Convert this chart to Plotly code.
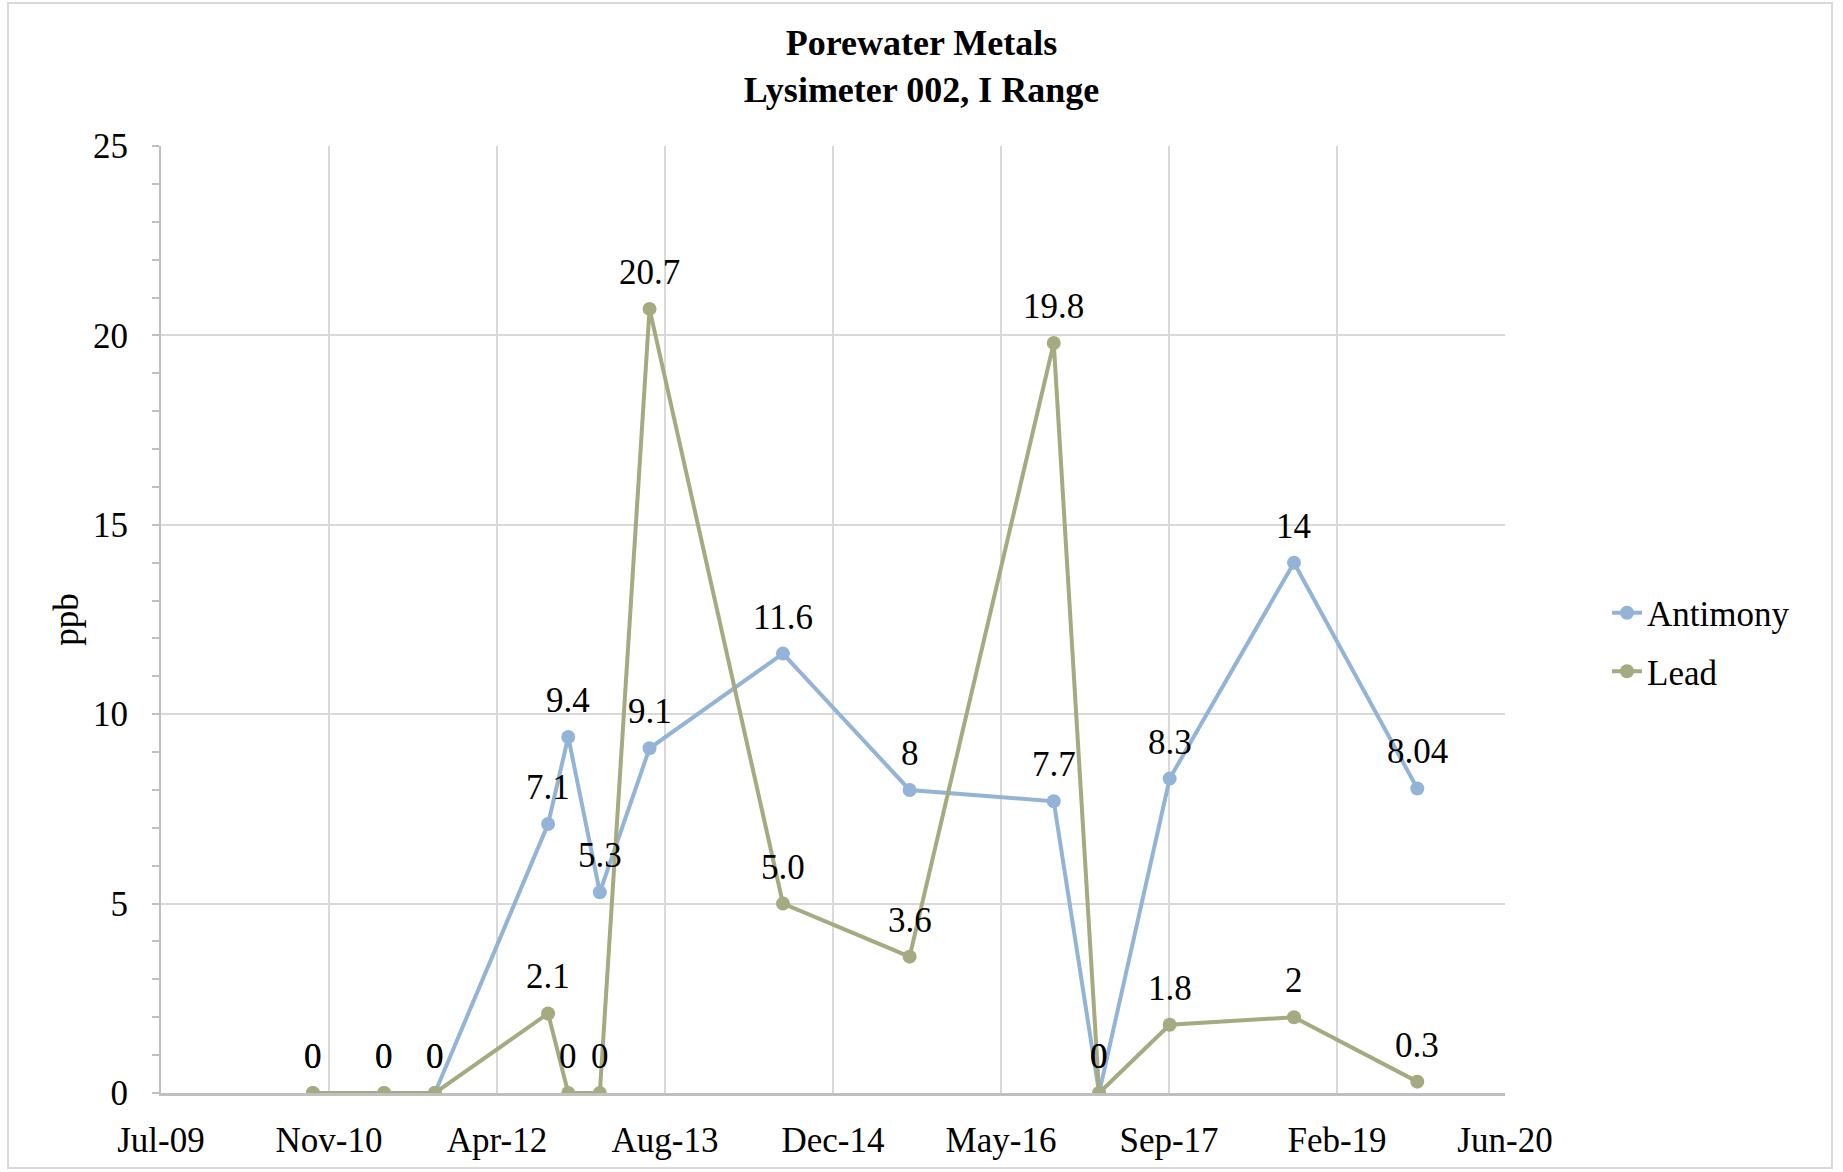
import datetime as dt
import plotly.graph_objects as go

# Sampling dates and measured concentrations (ppb)
sample_dates = [
    "2010-10-01", "2011-05-01", "2011-09-29", "2012-08-31", "2012-10-30",
    "2013-02-01", "2013-06-29", "2014-07-31", "2015-08-12", "2016-10-14",
    "2017-02-26", "2017-09-24", "2018-09-29", "2019-10-01",
]
antimony_labels = ["0", "0", "0", "7.1", "9.4", "5.3", "9.1", "11.6", "8", "7.7", "0", "8.3", "14", "8.04"]
lead_labels = ["0", "0", "0", "2.1", "0", "0", "20.7", "5.0", "3.6", "19.8", "0", "1.8", "2", "0.3"]
antimony = [float(t) for t in antimony_labels]
lead = [float(t) for t in lead_labels]

# Date-axis ticks every 500 days starting Jul-09
x_tick_text = ["Jul-09", "Nov-10", "Apr-12", "Aug-13", "Dec-14", "May-16", "Sep-17", "Feb-19", "Jun-20"]
axis_start = dt.date(2009, 7, 6)
x_tick_vals = [(axis_start + dt.timedelta(days=500 * i)).isoformat() for i in range(len(x_tick_text))]
y_tick_vals = [0, 5, 10, 15, 20, 25]

FONT = "Liberation Serif, Times New Roman, serif"
FS = 35
SB_COLOR = "#93B4D6"
PB_COLOR = "#A5AA80"
GRID = "#D9D9D9"
AXIS = "#BFBFBF"

W, H = 1843, 1172
ML, MR, MT, MB = 161, 338, 146, 79
PW, PH = W - ML - MR, H - MT - MB

fig = go.Figure()
for name, vals, color in [("Antimony", antimony, SB_COLOR), ("Lead", lead, PB_COLOR)]:
    fig.add_trace(go.Scatter(
        x=sample_dates, y=vals, name=name, legendgroup=name, mode="lines+markers",
        line=dict(color=color, width=4),
        marker=dict(color=color, size=14),
    ))

# Data labels above each point
annotations = []
for labels, vals in [(antimony_labels, antimony), (lead_labels, lead)]:
    for d, v, t in zip(sample_dates, vals, labels):
        annotations.append(dict(
            x=d, y=v, xref="x", yref="y", text=t, showarrow=False,
            xanchor="center", yanchor="bottom", yshift=15,
            font=dict(family=FONT, size=FS, color="black"),
        ))


def px_to_paper(px, py):
    return (px - ML) / PW, (H - MB - py) / PH


x0, y0 = px_to_paper(8, 1168)
x1, y1 = px_to_paper(1832, 3)

fig.update_layout(
    width=W, height=H,
    margin=dict(l=ML, r=MR, t=MT, b=MB, pad=0),
    paper_bgcolor="white", plot_bgcolor="white",
    font=dict(family=FONT, size=FS, color="black"),
    title=dict(
        text="<b>Porewater Metals<br>Lysimeter 002, I Range</b>",
        x=0.5, xref="container", xanchor="center",
        y=1 - 55 / H, yref="container", yanchor="middle",
        font=dict(family=FONT, size=36, color="black"),
    ),
    xaxis=dict(
        type="date",
        range=[x_tick_vals[0], x_tick_vals[-1]],
        tickmode="array", tickvals=x_tick_vals, ticktext=x_tick_text,
        showgrid=True, gridcolor=GRID, gridwidth=1.5,
        showline=True, linecolor=AXIS, linewidth=2.5,
        ticks="", ticklabelstandoff=14, zeroline=False,
        tickfont=dict(family=FONT, size=FS),
    ),
    yaxis=dict(
        range=[0, 25],
        tickmode="array", tickvals=y_tick_vals,
        showgrid=True, gridcolor=GRID, gridwidth=1.5,
        showline=True, linecolor=AXIS, linewidth=2,
        ticks="outside", ticklen=7, tickcolor=AXIS, tickwidth=1.5,
        minor=dict(dtick=1, ticks="outside", ticklen=7, tickcolor=AXIS, tickwidth=1.5, showgrid=False),
        ticklabelstandoff=17, zeroline=False,
        title=dict(text="ppb", standoff=4, font=dict(family=FONT, size=FS)),
        tickfont=dict(family=FONT, size=FS),
    ),
    yaxis2=dict(
        overlaying="y", anchor="x", side="left", range=[0, 25],
        tickmode="array", tickvals=y_tick_vals,
        showgrid=False, showline=False, zeroline=False, showticklabels=False,
        ticks="inside", ticklen=7, tickcolor=AXIS, tickwidth=1.5,
        minor=dict(dtick=1, ticks="inside", ticklen=7, tickcolor=AXIS, tickwidth=1.5, showgrid=False),
    ),
    legend=dict(
        x=(1607 - ML) / PW, xanchor="left",
        y=px_to_paper(0, 642)[1], yanchor="middle",
        font=dict(family=FONT, size=FS, color="black"),
        bgcolor="rgba(0,0,0,0)", tracegroupgap=10,
    ),
    annotations=annotations,
    shapes=[
        dict(type="rect", xref="paper", yref="paper", x0=x0, y0=y0, x1=x1, y1=y1,
             line=dict(color=GRID, width=2), fillcolor="rgba(0,0,0,0)", layer="below"),
    ],
    showlegend=True,
)

fig.write_html("out.html")
